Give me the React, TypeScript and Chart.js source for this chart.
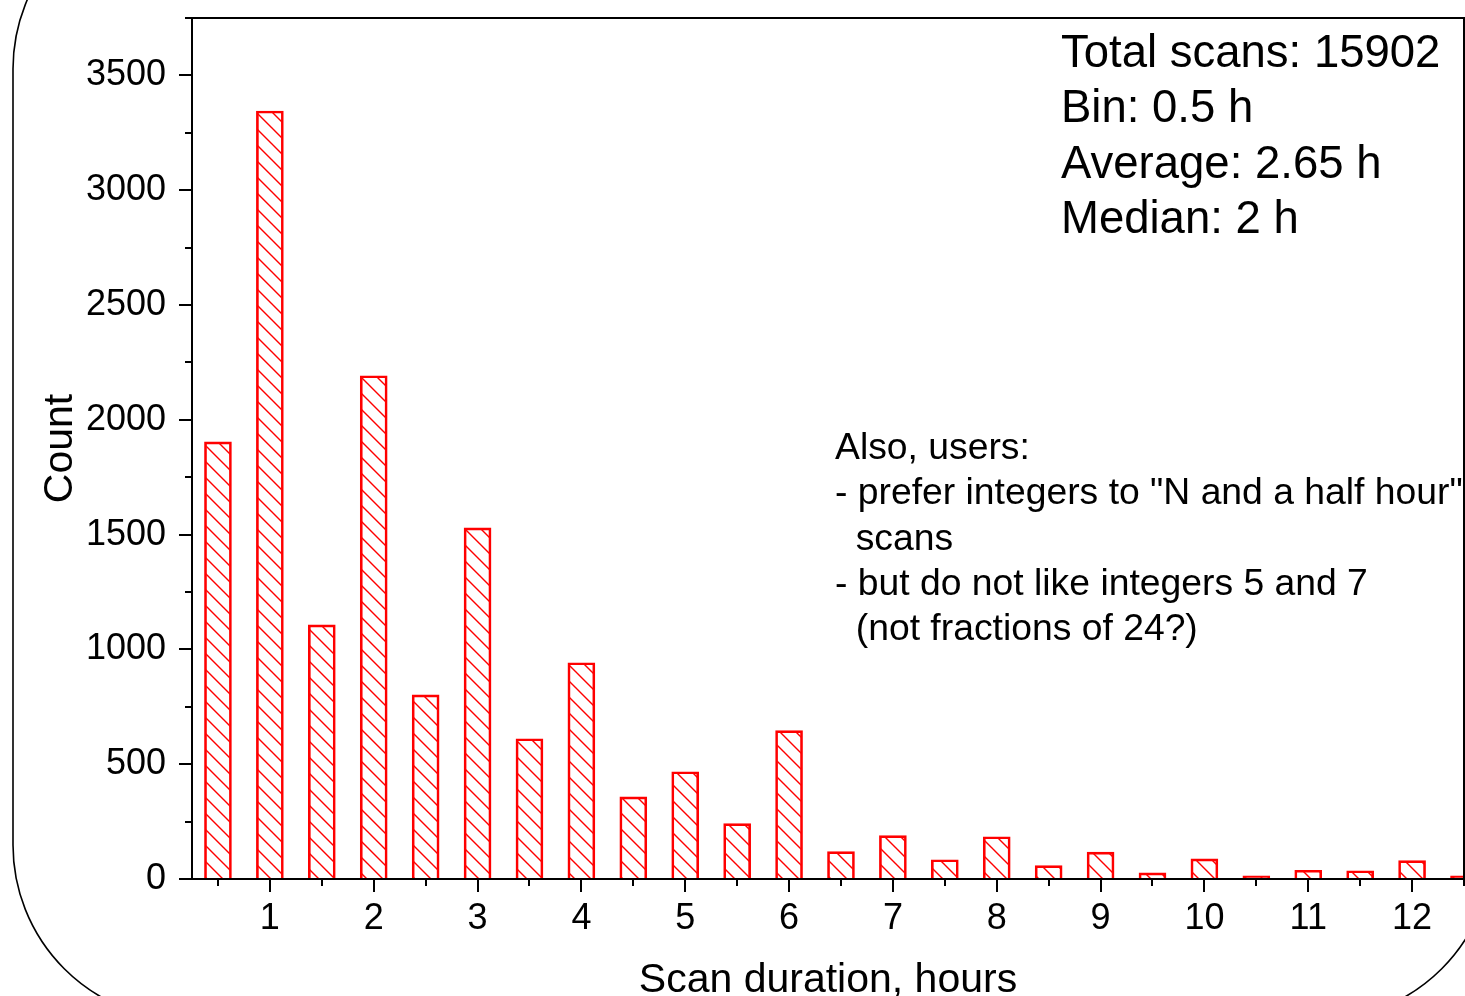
import React, { useEffect, useRef } from 'react';
import { Chart, registerables } from 'chart.js';

Chart.register(...registerables);

// ---- data ----
const binCenters: number[] = [
  0.5, 1, 1.5, 2, 2.5, 3, 3.5, 4, 4.5, 5, 5.5, 6, 6.5, 7, 7.5, 8, 8.5, 9, 9.5, 10, 10.5, 11, 11.5, 12, 12.5,
];
const counts: number[] = [
  1904, 3345, 1107, 2192, 802, 1529, 611, 942, 358, 467, 241, 646, 119, 189, 84, 184, 58, 117, 27, 88, 14, 38, 36, 80, 14,
];
const xTickLabels: number[] = [1, 2, 3, 4, 5, 6, 7, 8, 9, 10, 11, 12];
const yTickLabels: number[] = [0, 500, 1000, 1500, 2000, 2500, 3000, 3500];
const xMin = 0.25;
const xMax = 12.5;
const yMin = 0;
const yMax = 3750;
const xMinorStep = 0.5;
const yMinorStep = 250;
const xTitle = 'Scan duration, hours';
const yTitle = 'Count';
const statsLines: string[] = ['Total scans: 15902', 'Bin: 0.5 h', 'Average: 2.65 h', 'Median: 2 h'];
const noteLines: string[] = [
  'Also, users:',
  '- prefer integers to "N and a half hour"',
  '  scans',
  '- but do not like integers 5 and 7',
  '  (not fractions of 24?)',
];

const FONT = '"Liberation Sans", Arial, Helvetica, sans-serif';
const W = 1465;
const H = 996;

function makeHatch(): CanvasPattern | string {
  const size = 16;
  const tile = document.createElement('canvas');
  tile.width = size;
  tile.height = size;
  const c = tile.getContext('2d');
  if (!c) return '#ff0000';
  c.strokeStyle = '#ff0000';
  c.lineWidth = 1.4;
  c.beginPath();
  c.moveTo(-2, -2);
  c.lineTo(size + 2, size + 2);
  c.moveTo(-2, size - 2);
  c.lineTo(2, size + 2);
  c.moveTo(size - 2, -2);
  c.lineTo(size + 2, 2);
  c.stroke();
  const pat = c.createPattern(tile, 'repeat');
  return pat || '#ff0000';
}

const decorPlugin = {
  id: 'decor',
  afterDraw(chart: any) {
    const { ctx, chartArea: a, scales } = chart;
    const xs = scales.x;
    const ys = scales.y;
    ctx.save();
    ctx.strokeStyle = '#000';
    ctx.lineWidth = 2;
    // plot frame
    ctx.strokeRect(a.left, a.top, a.right - a.left, a.bottom - a.top);
    // x tick marks
    ctx.beginPath();
    for (let v = xMinorStep; v <= xMax + 1e-9; v += xMinorStep) {
      const px = Math.round(xs.getPixelForValue(v));
      const major = Math.abs(v - Math.round(v)) < 1e-9;
      ctx.moveTo(px, a.bottom);
      ctx.lineTo(px, a.bottom + (major ? 13 : 7));
    }
    // y tick marks
    for (let v = yMin; v <= yMax + 1e-9; v += yMinorStep) {
      const py = Math.round(ys.getPixelForValue(v));
      const major = v % 500 === 0;
      ctx.moveTo(a.left, py);
      ctx.lineTo(a.left - (major ? 13 : 7), py);
    }
    ctx.stroke();

    ctx.fillStyle = '#000';
    // axis titles
    ctx.font = `41px ${FONT}`;
    ctx.textAlign = 'center';
    ctx.textBaseline = 'alphabetic';
    ctx.fillText(xTitle, (a.left + a.right) / 2, 992);
    ctx.save();
    ctx.translate(72, (a.top + a.bottom) / 2);
    ctx.rotate(-Math.PI / 2);
    ctx.fillText(yTitle, 0, 0);
    ctx.restore();

    // stats block
    ctx.textAlign = 'left';
    ctx.font = `45.5px ${FONT}`;
    const statBase = [67, 122, 178, 233];
    statsLines.forEach((t, i) => ctx.fillText(t, 1061, statBase[i]));

    // note block
    ctx.font = `37.3px ${FONT}`;
    noteLines.forEach((t, i) => {
      const lead = t.length - t.trimStart().length;
      const off = lead ? ctx.measureText(' '.repeat(lead)).width : 0;
      ctx.fillText(t.trimStart(), 835 + off, 459 + i * 45.3);
    });

    // rounded outer outline
    ctx.lineWidth = 1.6;
    ctx.beginPath();
    (ctx as any).roundRect(13, -106, 1480, 1126, 175);
    ctx.stroke();
    ctx.restore();
  },
};

export default function App() {
  const ref = useRef<HTMLCanvasElement | null>(null);
  useEffect(() => {
    if (!ref.current) return;
    const hatch = makeHatch();
    const chart = new Chart(ref.current, {
      type: 'bar',
      data: {
        datasets: [
          {
            data: binCenters.map((x, i) => ({ x, y: counts[i] })),
            backgroundColor: hatch as any,
            borderColor: '#ff0000',
            borderWidth: 2,
            borderSkipped: 'start',
            barThickness: 27,
          },
        ],
      },
      options: {
        responsive: false,
        animation: false,
        devicePixelRatio: 1,
        layout: { padding: { top: 18, right: 1, left: 0, bottom: 0 } },
        plugins: { legend: { display: false }, tooltip: { enabled: false } },
        scales: {
          x: {
            type: 'linear',
            offset: false,
            min: xMin,
            max: xMax,
            grid: { display: false, drawTicks: false, offset: false },
            border: { display: false },
            ticks: {
              padding: 18,
              color: '#000',
              font: { family: FONT, size: 36 },
              maxRotation: 0,
              autoSkip: false,
              callback: (v: any) => String(v),
            },
            afterBuildTicks: (s: any) => {
              s.ticks = xTickLabels.map((v) => ({ value: v }));
            },
            afterFit: (s: any) => {
              s.height = H - 879;
              s.paddingLeft = 0;
              s.paddingRight = 0;
            },
          },
          y: {
            type: 'linear',
            min: yMin,
            max: yMax,
            grid: { display: false, drawTicks: false },
            border: { display: false },
            ticks: {
              padding: 26,
              color: '#000',
              font: { family: FONT, size: 36 },
              autoSkip: false,
              callback: (v: any) => String(v),
            },
            afterBuildTicks: (s: any) => {
              s.ticks = yTickLabels.map((v) => ({ value: v }));
            },
            afterFit: (s: any) => {
              s.width = 192;
              s.paddingTop = 0;
              s.paddingBottom = 0;
            },
          },
        },
      },
      plugins: [decorPlugin],
    });
    return () => chart.destroy();
  }, []);
  return (
    <div style={{ position: 'absolute', left: 0, top: 0, width: W, height: H, background: '#fff' }}>
      <canvas ref={ref} width={W} height={H} style={{ display: 'block', width: W, height: H }} />
    </div>
  );
}
